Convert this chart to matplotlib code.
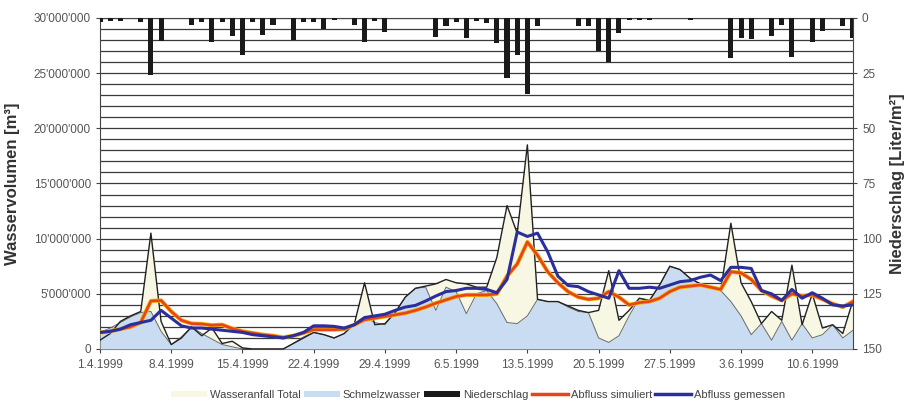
import numpy as np
import matplotlib
matplotlib.use("Agg")
import matplotlib.pyplot as plt
from matplotlib.patches import Patch
from matplotlib.lines import Line2D

# Tageswerte 1.4.1999 - 14.6.1999 (Mio. m3 bzw. mm)
wasseranfall_total = [0.8, 1.4, 2.5, 3.0, 3.4, 10.5, 2.5, 0.4, 1.0, 2.0,
                      1.2, 1.9, 0.5, 0.7, 0.1, 0, 0, 0, 0, 0.5,
                      1.0, 1.5, 1.3, 1.0, 1.4, 2.3, 6.0, 2.2, 2.3, 3.3,
                      4.7, 5.5, 5.7, 5.9, 6.3, 6.0, 5.9, 5.6, 5.6, 8.3,
                      13.0, 10.5, 18.5, 4.5, 4.3, 4.3, 3.9, 3.5, 3.3, 3.5,
                      7.1, 2.6, 3.5, 4.6, 4.4, 5.8, 7.5, 7.2, 6.4, 5.9,
                      5.6, 5.3, 11.4, 6.0, 4.3, 2.3, 3.4, 2.6, 7.6, 2.2,
                      5.0, 1.9, 2.2, 1.4, 4.4]
schmelzwasser = [1.5, 1.9, 2.4, 2.9, 3.3, 3.4, 1.6, 0.4, 1.1, 2.0,
                 1.4, 0.9, 0.4, 0.2, 0.0, 0, 0, 0, 0, 0.5,
                 1.1, 1.5, 1.3, 1.0, 1.4, 2.3, 2.9, 2.4, 2.2, 3.3,
                 4.7, 5.5, 5.6, 3.5, 5.6, 5.2, 3.2, 5.0, 5.3, 4.1,
                 2.4, 2.3, 3.0, 4.5, 4.3, 4.3, 3.8, 3.4, 3.3, 1.0,
                 0.6, 1.2, 3.0, 4.6, 4.4, 5.8, 7.5, 7.2, 6.4, 5.9,
                 5.6, 5.3, 4.3, 3.0, 1.3, 2.3, 0.8, 2.5, 0.8, 2.3,
                 1.0, 1.3, 2.2, 1.0, 1.7]
abfluss_sim = [1.5, 1.6, 1.8, 2.0, 2.4, 4.35, 4.4, 3.4, 2.6, 2.3,
               2.27, 2.15, 2.2, 1.85, 1.6, 1.45, 1.3, 1.2, 1.05, 1.2,
               1.45, 1.75, 1.75, 1.75, 1.8, 2.2, 2.65, 2.8, 2.95, 3.1,
               3.25, 3.5, 3.8, 4.15, 4.45, 4.75, 4.9, 4.9, 4.9, 5.0,
               6.6, 7.7, 9.7, 8.5, 7.0, 6.0, 5.2, 4.7, 4.5, 4.6,
               5.2, 4.7, 4.0, 4.2, 4.3, 4.6, 5.2, 5.6, 5.7, 5.8,
               5.6, 5.4, 7.0, 6.9, 6.3, 5.3, 4.8, 4.4, 5.0, 4.8,
               4.9, 4.5, 4.1, 3.8, 4.3]
abfluss_gem = [1.5, 1.6, 1.8, 2.2, 2.4, 2.6, 3.5, 2.8, 2.1, 1.9,
               1.9, 1.8, 1.7, 1.6, 1.5, 1.3, 1.2, 1.1, 1.0, 1.2,
               1.5, 2.1, 2.1, 2.05, 1.9, 2.2, 2.85, 3.0, 3.15, 3.5,
               3.8, 3.95, 4.35, 4.8, 5.2, 5.3, 5.5, 5.5, 5.4, 5.1,
               6.3, 10.6, 10.2, 10.5, 8.8, 6.6, 5.75, 5.65, 5.2, 4.9,
               4.6, 7.1, 5.5, 5.5, 5.6, 5.5, 5.8, 6.1, 6.2, 6.5,
               6.7, 6.2, 7.4, 7.4, 7.3, 5.3, 5.0, 4.4, 5.4, 4.6,
               5.1, 4.6, 4.0, 3.9, 4.0]
niederschlag = [2, 1.5, 1.5, 0, 2, 26, 10.5, 0, 0, 3,
                2, 11, 2, 8, 17, 2, 7.5, 3, 0, 10,
                2, 2, 5, 1, 0, 3, 11, 1.5, 6.5, 0,
                0, 0, 0, 8.5, 3.5, 2, 9, 1.5, 2.5, 11.5,
                27, 17, 34.5, 3.5, 0, 0, 0, 3.5, 3.5, 15,
                20, 7, 1, 1, 1, 0, 0, 0, 1, 0,
                0, 0, 18, 9, 9.5, 0, 8, 3, 17.5, 0,
                11, 6, 0, 3.5, 9]

datum_labels = ["1.4.1999", "8.4.1999", "15.4.1999", "22.4.1999", "29.4.1999",
                "6.5.1999", "13.5.1999", "20.5.1999", "27.5.1999", "3.6.1999",
                "10.6.1999"]
links_labels = ["0", "5'000'000", "10'000'000", "15'000'000", "20'000'000",
                "25'000'000", "30'000'000"]
rechts_labels = ["0", "25", "50", "75", "100", "125", "150"]

tage = np.arange(len(wasseranfall_total))
T = np.array(wasseranfall_total) * 1e6
S = np.array(schmelzwasser) * 1e6

plt.rcParams['font.family'] = ['Liberation Sans', 'DejaVu Sans']
grau = '#555555'

fig = plt.figure(figsize=(9.11, 4.05), dpi=100)
ax = fig.add_axes([0.1098, 0.1383, 0.8265, 0.8173])

for v in np.arange(1e6, 30e6 + 1, 1e6):
    ax.axhline(v, color='#3a3a3a', lw=0.9, zorder=1)

ax.fill_between(tage, 0, T, color='#f7f7e4', lw=0, zorder=2)
ax.fill_between(tage, 0, S, color='#c9dcf1', lw=0, zorder=3)
ax.plot(tage, S, color='#6a6a6a', lw=0.7, zorder=4)
ax.plot(tage, T, color='#222222', lw=1.0, zorder=4)

ax.plot(tage, np.array(abfluss_sim) * 1e6, color='#f5b400', lw=3.0, zorder=5)
ax.plot(tage, np.array(abfluss_sim) * 1e6, color='#e8431c', lw=1.9, zorder=6)
ax.plot(tage, np.array(abfluss_gem) * 1e6, color='#2b2f9c', lw=2.2, zorder=7)

ax.set_xlim(0, 74)
ax.set_ylim(0, 30e6)
ax.set_xticks(np.arange(0, 71, 7))
ax.set_xticklabels(datum_labels)
ax.set_yticks(np.arange(0, 30e6 + 1, 5e6))
ax.set_yticklabels(links_labels)
ax.tick_params(axis='both', labelsize=8.5, colors='#444444', labelcolor=grau,
               length=3, width=0.8)
ax.tick_params(axis='x', pad=4)
for s in ['left', 'bottom', 'top']:
    ax.spines[s].set_color('#444444')
ax.spines['right'].set_visible(False)
ax.set_ylabel("Wasservolumen [m³]", fontsize=12, fontweight='bold',
              color='#333333', labelpad=10)

ax2 = ax.twinx()
ax2.bar(tage, niederschlag, width=0.5, color='#1a1a1a', zorder=3)
ax2.set_ylim(150, 0)
ax2.set_yticks(np.arange(0, 151, 25))
ax2.set_yticklabels(rechts_labels)
ax2.tick_params(axis='y', labelsize=8.5, colors='#444444', labelcolor=grau,
                length=3, width=0.8)
for s in ['left', 'bottom', 'top']:
    ax2.spines[s].set_visible(False)
ax2.spines['right'].set_color('#444444')
ax2.set_ylabel("Niederschlag [Liter/m²]", fontsize=12, fontweight='bold',
               color='#333333', rotation=90, labelpad=6)

handles = [Patch(facecolor='#f7f7e4', edgecolor='none'),
           Patch(facecolor='#c9dcf1', edgecolor='none'),
           Patch(facecolor='#1a1a1a', edgecolor='none'),
           Line2D([], [], color='#e8431c', lw=2.5),
           Line2D([], [], color='#2b2f9c', lw=2.5)]
namen = ["Wasseranfall Total", "Schmelzwasser", "Niederschlag",
         "Abfluss simuliert", "Abfluss gemessen"]
fig.legend(handles, namen, loc='lower center', bbox_to_anchor=(0.525, -0.012),
           ncol=5, frameon=False, fontsize=8, handlelength=3.2,
           handleheight=0.5, handletextpad=0.3, columnspacing=0.3,
           labelcolor='#444444')

fig.savefig("out.png", dpi=100)
